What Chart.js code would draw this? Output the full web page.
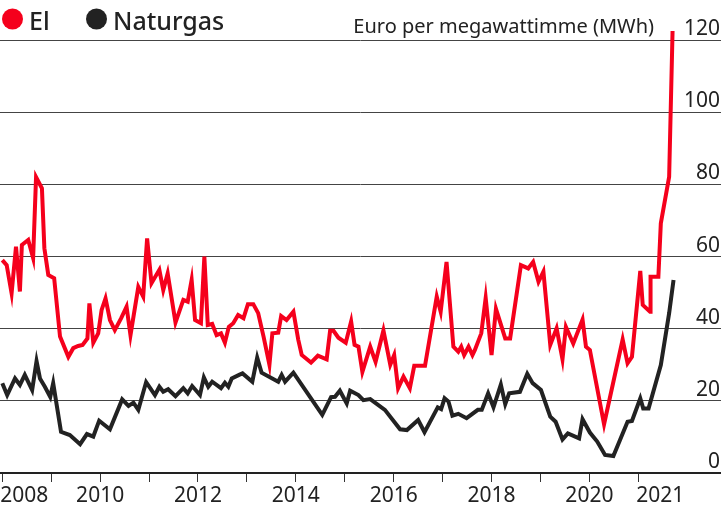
<!DOCTYPE html>
<html>
<head>
<meta charset="utf-8">
<script src="https://cdn.jsdelivr.net/npm/chart.js@4/dist/chart.umd.min.js"></script>
<style>
  html, body { margin: 0; padding: 0; background: #fff; }
  #wrap { position: relative; width: 721px; height: 511px; }
</style>
</head>
<body>
<div id="wrap"><canvas id="chart"></canvas></div>
<script>
// ── Data (decimal years) ──────────────────────────────────────────────────

const elYears = [
  2008.00, 2008.09, 2008.19, 2008.28, 2008.36, 2008.40, 2008.53, 2008.63, 2008.69, 2008.81,
  2008.86, 2008.94, 2009.06, 2009.18, 2009.35, 2009.45, 2009.55, 2009.64, 2009.74, 2009.78,
  2009.86, 2009.96, 2010.03, 2010.11, 2010.20, 2010.30, 2010.43, 2010.54, 2010.62, 2010.78,
  2010.88, 2010.96, 2011.05, 2011.21, 2011.29, 2011.38, 2011.54, 2011.70, 2011.79, 2011.87,
  2011.94, 2012.06, 2012.13, 2012.20, 2012.29, 2012.38, 2012.47, 2012.55, 2012.63, 2012.72,
  2012.82, 2012.93, 2013.02, 2013.13, 2013.23, 2013.34, 2013.46, 2013.52, 2013.64, 2013.70,
  2013.81, 2013.95, 2014.05, 2014.12, 2014.31, 2014.45, 2014.63, 2014.70, 2014.77, 2014.87,
  2015.02, 2015.13, 2015.20, 2015.28, 2015.36, 2015.52, 2015.63, 2015.79, 2015.93, 2016.01,
  2016.09, 2016.20, 2016.33, 2016.42, 2016.64, 2016.88, 2016.96, 2017.08, 2017.22, 2017.32,
  2017.38, 2017.44, 2017.53, 2017.61, 2017.66, 2017.79, 2017.88, 2018.00, 2018.09, 2018.28,
  2018.38, 2018.60, 2018.75, 2018.85, 2018.96, 2019.06, 2019.20, 2019.33, 2019.45, 2019.52,
  2019.67, 2019.86, 2019.93, 2020.01, 2020.30, 2020.68, 2020.78, 2020.87, 2021.04, 2021.09,
  2021.24, 2021.25, 2021.41, 2021.46, 2021.63, 2021.70
];
const elValues = [
  59.0, 57.6, 49.8, 62.7, 50.3, 63.2, 64.6, 59.6, 82.0, 78.9,
  62.3, 54.9, 54.0, 37.8, 32.2, 34.6, 35.2, 35.5, 37.3, 47.0,
  36.1, 38.7, 45.2, 48.4, 42.4, 39.6, 42.9, 46.1, 38.2, 51.6,
  48.9, 65.0, 52.6, 56.3, 50.7, 55.3, 41.7, 48.0, 47.5, 53.5,
  42.4, 41.5, 60.0, 41.0, 41.3, 38.2, 38.7, 36.1, 40.5, 41.5,
  43.8, 42.9, 46.8, 46.8, 44.3, 37.8, 30.0, 38.7, 38.9, 43.5,
  42.4, 44.7, 36.9, 32.7, 30.6, 32.5, 31.5, 39.4, 39.4, 37.5,
  36.1, 42.0, 35.5, 35.0, 28.0, 35.0, 30.8, 39.5, 30.0, 32.7,
  23.5, 26.7, 23.5, 29.7, 29.7, 48.9, 44.7, 58.5, 35.0, 33.6,
  35.0, 32.7, 35.0, 32.7, 34.1, 38.7, 48.5, 32.7, 45.5, 37.3,
  37.3, 57.6, 56.7, 58.5, 53.0, 55.8, 35.5, 40.1, 31.5, 40.5,
  35.9, 42.5, 35.0, 34.1, 13.5, 37.0, 30.4, 32.2, 56.0, 46.6,
  44.7, 54.4, 54.4, 69.2, 82.1, 122.5
];

const gasYears = [
  2008.00, 2008.10, 2008.26, 2008.36, 2008.46, 2008.61, 2008.70, 2008.77, 2008.87, 2008.98,
  2009.04, 2009.20, 2009.38, 2009.59, 2009.73, 2009.86, 2009.98, 2010.20, 2010.45, 2010.58,
  2010.68, 2010.78, 2010.94, 2011.12, 2011.21, 2011.29, 2011.39, 2011.54, 2011.70, 2011.79,
  2011.88, 2012.04, 2012.12, 2012.21, 2012.29, 2012.47, 2012.55, 2012.62, 2012.69, 2012.84,
  2012.91, 2013.11, 2013.21, 2013.30, 2013.64, 2013.71, 2013.78, 2013.95, 2014.54, 2014.72,
  2014.80, 2014.90, 2015.04, 2015.11, 2015.28, 2015.38, 2015.52, 2015.82, 2016.13, 2016.27,
  2016.50, 2016.63, 2016.90, 2016.97, 2017.04, 2017.12, 2017.20, 2017.32, 2017.49, 2017.72,
  2017.80, 2017.93, 2018.04, 2018.19, 2018.28, 2018.36, 2018.58, 2018.73, 2018.84, 2019.01,
  2019.20, 2019.31, 2019.45, 2019.56, 2019.79, 2019.86, 2020.01, 2020.16, 2020.32, 2020.49,
  2020.78, 2020.87, 2021.04, 2021.10, 2021.21, 2021.46, 2021.63, 2021.72
];
const gasValues = [
  24.9, 21.6, 26.2, 24.4, 27.2, 23.0, 31.0, 26.2, 23.9, 21.1,
  24.9, 11.4, 10.5, 8.0, 10.8, 10.1, 14.5, 12.1, 20.4, 18.6,
  19.5, 17.5, 25.2, 21.6, 23.9, 22.5, 23.2, 21.3, 23.5, 22.1,
  24.1, 21.6, 26.5, 23.9, 25.3, 23.5, 25.0, 23.9, 26.2, 27.2,
  27.6, 25.3, 32.0, 27.8, 25.3, 27.2, 25.3, 27.8, 16.1, 21.0,
  21.1, 22.8, 19.3, 22.8, 21.6, 20.2, 20.5, 17.5, 12.1, 11.9,
  14.7, 11.3, 18.2, 17.7, 20.7, 19.8, 15.9, 16.4, 15.2, 17.5,
  17.5, 22.1, 18.2, 24.5, 19.1, 22.1, 22.5, 27.5, 24.9, 23.0,
  15.6, 14.2, 9.3, 11.0, 9.6, 14.9, 11.2, 8.7, 5.0, 4.7,
  14.2, 14.4, 20.7, 17.9, 17.9, 29.9, 44.3, 53.5
];

const tickYears  = [2008, 2009, 2010, 2011, 2012, 2013, 2014, 2015, 2016, 2017, 2018, 2019, 2020, 2021];
const yearLabels = [2008, 2010, 2012, 2014, 2016, 2018, 2020, 2021];
const legendItems = [
  { label: 'El',       color: '#f5001c' },
  { label: 'Naturgas', color: '#222222' }
];
const unitTitle = 'Euro per megawattimme (MWh)';

// ── Chart ─────────────────────────────────────────────────────────────────

const FONT = '"Noto Sans", sans-serif';
const INK  = '#222';

const toPoints = (xs, ys) => xs.map((x, i) => ({ x, y: ys[i] }));

const labelsPlugin = {
  id: 'labels',
  afterDraw(chart) {
    const { ctx, scales: { x, y } } = chart;
    ctx.save();
    ctx.fillStyle = INK;

    // y tick labels, right aligned above their grid lines
    ctx.font = `21px ${FONT}`;
    ctx.textAlign = 'right';
    ctx.textBaseline = 'alphabetic';
    y.ticks.forEach(t => ctx.fillText(String(t.value), 720, y.getPixelForValue(t.value) - 5));

    // year labels: first and last start at their tick, the rest centred
    yearLabels.forEach((yr, i) => {
      const px = x.getPixelForValue(yr);
      const edge = i === 0 || i === yearLabels.length - 1;
      ctx.textAlign = edge ? 'left' : 'center';
      ctx.fillText(String(yr), edge ? Math.max(0, px - 2) : px, 502);
    });

    // unit title
    ctx.font = `20px ${FONT}`;
    ctx.textAlign = 'right';
    ctx.fillText(unitTitle, 654, 33);

    // legend
    ctx.font = `500 25px ${FONT}`;
    ctx.textAlign = 'left';
    let lx = 2;
    legendItems.forEach(it => {
      ctx.fillStyle = it.color;
      ctx.beginPath();
      ctx.arc(lx + 10.5, 19, 10.5, 0, Math.PI * 2);
      ctx.fill();
      ctx.fillStyle = INK;
      ctx.fillText(it.label, lx + 27, 30);
      lx += 84;
    });
    ctx.restore();
  }
};

new Chart(document.getElementById('chart'), {
  type: 'line',
  plugins: [labelsPlugin],
  data: {
    datasets: [
      { label: 'Naturgas', data: toPoints(gasYears, gasValues),
        borderColor: legendItems[1].color, borderWidth: 4, pointRadius: 0, tension: 0, clip: false },
      { label: 'El', data: toPoints(elYears, elValues),
        borderColor: legendItems[0].color, borderWidth: 4, pointRadius: 0, tension: 0, clip: false }
    ]
  },
  options: {
    responsive: true, maintainAspectRatio: false, animation: false,
    layout: { padding: { top: 40, left: 0, right: 0, bottom: 0 } },
    plugins: { legend: { display: false }, tooltip: { enabled: false } },
    scales: {
      x: { type: 'linear', min: 2007.953, max: 2022.69,
           afterBuildTicks: s => { s.ticks = tickYears.map(v => ({ value: v })); },
           afterFit: s => { s.height = 38; },
           ticks: { display: false },
           grid: { drawOnChartArea: false, drawTicks: true, tickLength: 9, color: '#333', lineWidth: 1 },
           border: { display: true, color: INK, width: 2 } },
      y: { type: 'linear', position: 'right', min: 0, max: 120,
           afterFit: s => { s.width = 0; },
           ticks: { display: false, stepSize: 20 },
           grid: { color: '#444', lineWidth: 1, drawTicks: false },
           border: { display: false } }
    }
  }
});
</script>
</body>
</html>
